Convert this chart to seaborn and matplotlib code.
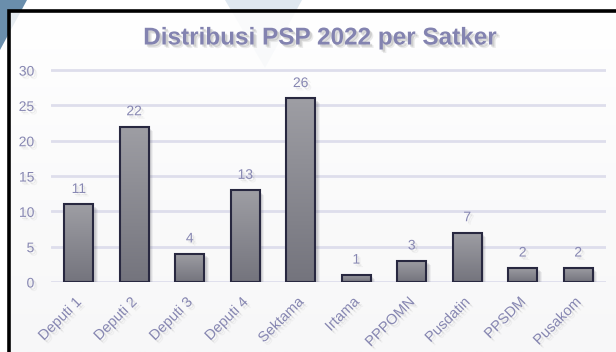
import numpy as np
import pandas as pd
import matplotlib
matplotlib.use("Agg")
import matplotlib.pyplot as plt
import matplotlib.patheffects as pe
import matplotlib.transforms as mtransforms
from matplotlib.patches import Polygon, Rectangle
from matplotlib.colors import LinearSegmentedColormap
import seaborn as sns

# Data
satker = ["Deputi 1", "Deputi 2", "Deputi 3", "Deputi 4", "Sektama",
          "Irtama", "PPPOMN", "Pusdatin", "PPSDM", "Pusakom"]
jumlah_psp = [11, 22, 4, 13, 26, 1, 3, 7, 2, 2]
y_ticks = [0, 5, 10, 15, 20, 25, 30]
judul = "Distribusi PSP 2022 per Satker"

df = pd.DataFrame({"Satker": satker, "PSP": jumlah_psp})

sns.set_theme(style="white")
plt.rcParams["font.family"] = ["Liberation Sans", "DejaVu Sans"]

W, H = 616, 352
fig = plt.figure(figsize=(W / 100, H / 100), dpi=100)
fig.patch.set_facecolor("white")


def fpos(x, y):
    """Pixel position (from top-left) to figure fraction."""
    return (x / W, 1 - y / H)


LABEL = "#8787b2"


def soft_shadow(strength=1.0):
    return [pe.SimplePatchShadow(offset=(2.5, -2.5), shadow_rgbFace="#777777", alpha=0.07 * strength),
            pe.SimplePatchShadow(offset=(1.5, -1.5), shadow_rgbFace="#777777", alpha=0.12 * strength),
            pe.Normal()]


# Decorative shapes behind the panel
fig.patches.append(Polygon([fpos(0, 0), fpos(27, 0), fpos(0, 50)], closed=True,
                           transform=fig.transFigure, facecolor="#6a8eac",
                           edgecolor="none", zorder=0))
fig.patches.append(Polygon([fpos(225, 0), fpos(302, 0), fpos(265, 68)], closed=True,
                           transform=fig.transFigure, facecolor="#dfe8f0",
                           edgecolor="none", zorder=0))

# Panel with a soft vertical gradient
bg = fig.add_axes([9 / W, 0, 1 - 9 / W, 1 - 11 / H], zorder=0.5)
bg.set_axis_off()
grad = np.linspace(0, 1, 256).reshape(-1, 1)
panel_cmap = LinearSegmentedColormap.from_list("panel", ["#ffffff", "#f6f6f7"])
bg.imshow(grad, aspect="auto", cmap=panel_cmap, extent=[0, 1, 0, 1], alpha=0.85,
          origin="upper")
bg.set_xlim(0, 1)
bg.set_ylim(0, 1)
fig.patches.append(Rectangle(fpos(9, 370), (640 - 9) / W, (370 - 11) / H,
                             transform=fig.transFigure, facecolor="none",
                             edgecolor="black", linewidth=2.6, zorder=5))

# Chart axes
ax = fig.add_axes([51 / W, 1 - 282 / H, (606 - 51) / W, (282 - 68) / H], zorder=1)
ax.patch.set_alpha(0)
sns.barplot(data=df, x="Satker", y="PSP", ax=ax, width=0.52, color="#8c8c94",
            edgecolor="#282840", linewidth=1.5, zorder=3)

ymax = 30.3
bar_cmap = LinearSegmentedColormap.from_list("bar", ["#9e9ea4", "#74747d"])
for p in list(ax.patches):
    x, w, h = p.get_x(), p.get_width(), p.get_height()
    # soft drop shadow
    for k, a in ((4.5, 0.07), (3.5, 0.1), (2.5, 0.12)):
        off = mtransforms.ScaledTranslation(k / 100, -k / 100, fig.dpi_scale_trans)
        ax.add_patch(Rectangle((x, 0), w, h, transform=ax.transData + off,
                               facecolor="#555560", edgecolor="none", alpha=a, zorder=1.5))
    im = ax.imshow(grad, aspect="auto", cmap=bar_cmap, extent=[x, x + w, 0, h],
                   origin="upper", zorder=2)
    im.set_clip_path(p)
    p.set_facecolor("none")

ax.set_xlim(-0.5, len(satker) - 0.5)
ax.set_ylim(0, ymax)
ax.set_yticks(y_ticks)
ax.yaxis.grid(True, color="#dedeec", linewidth=2)
ax.xaxis.grid(False)
ax.set_axisbelow(True)
for s in ax.spines.values():
    s.set_visible(False)
ax.set_xlabel("")
ax.set_ylabel("")

ax.tick_params(axis="y", length=0, pad=12, labelcolor=LABEL, labelsize=10)
ax.tick_params(axis="x", length=0, pad=9, labelcolor=LABEL, labelsize=10.5)
shift = mtransforms.ScaledTranslation(-4 / 100, 0, fig.dpi_scale_trans)
for lab in ax.get_xticklabels():
    lab.set_rotation(45)
    lab.set_ha("right")
    lab.set_va("top")
    lab.set_rotation_mode("anchor")
    lab.set_transform(lab.get_transform() + shift)
    lab.set_path_effects(soft_shadow())
for lab in ax.get_yticklabels():
    lab.set_path_effects(soft_shadow())

labels = ax.bar_label(ax.containers[0], labels=[str(v) for v in jumlah_psp],
                      padding=6, color=LABEL, fontsize=10)
for t in labels:
    t.set_path_effects(soft_shadow())

fig.text(320 / W, 1 - 38 / H, judul, ha="center", va="center", fontsize=17.5,
         fontweight="bold", color="#8383b0", path_effects=soft_shadow(2.0))

fig.savefig("out.png", dpi=100)
